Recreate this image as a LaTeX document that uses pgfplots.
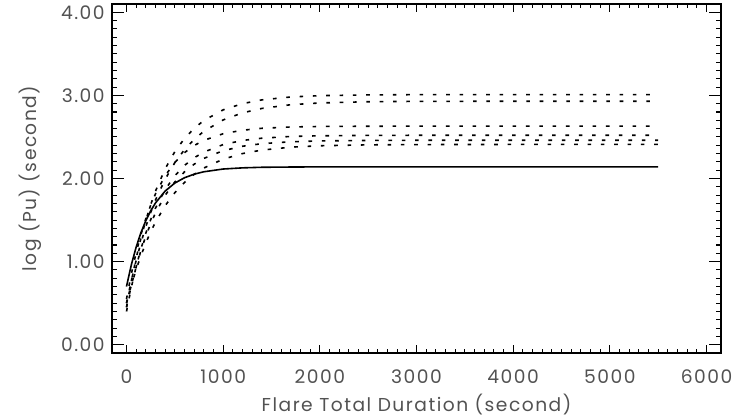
\documentclass[border=0pt]{standalone}
\usepackage{fontspec}
\setmainfont{Poppins}[LetterSpace=8]
\usepackage{pgfplots}
\pgfplotsset{compat=1.18}
\begin{document}
\begin{tikzpicture}
\begin{axis}[
  name=ax,
  scale only axis,
  width=456.75pt, height=261.75pt,
  xmin=-150, xmax=6150, ymin=-0.1, ymax=4.1,
  xtick={0,1000,2000,3000,4000,5000,6000},
  ytick={0,1,2,3,4},
  minor x tick num=9, minor y tick num=9,
  tick align=inside,
  xtick pos=both, ytick pos=both,
  xtick style={/pgfplots/major tick length=6pt,/pgfplots/minor tick length=3pt},
  ytick style={/pgfplots/major tick length=9pt,/pgfplots/minor tick length=4pt},
  every tick/.style={black, line width=0.8pt},
  axis line style={line width=1pt},
  /pgf/number format/assume math mode=true,
  xticklabel style={/pgf/number format/1000 sep={}, anchor=center, yshift=-18pt, font=\fontsize{14}{16}\selectfont, text=black!68},
  yticklabel style={/pgf/number format/fixed, /pgf/number format/fixed zerofill, /pgf/number format/precision=2, xshift=-2pt, font=\fontsize{14}{16}\selectfont, text=black!68},
  xlabel={Flare Total Duration (second)},
  ylabel={log (Pu) (second)},
  xlabel style={at={(axis description cs:0.5,0)}, anchor=center, yshift=-39pt, font=\fontsize{14}{16}\selectfont, text=black!68},
  ylabel style={at={(axis description cs:0,0.5)}, anchor=center, yshift=61.5pt, font=\fontsize{14}{16}\selectfont, text=black!68},
]
% solid
\addplot[black, line width=1.2pt] coordinates {
(0,0.70) (50,0.961) (100,1.175) (150,1.350) (200,1.493) (250,1.610) (300,1.706) (400,1.849) (500,1.945) (600,2.009) (700,2.052) (800,2.081) (1000,2.114) (1200,2.128) (1400,2.135) (1700,2.138) (2000,2.140) (3000,2.140) (4000,2.140) (5500,2.140)};
% dotted A
\addplot[black, line width=1.2pt, dash pattern=on 2.7pt off 7.3pt] coordinates {
(0,0.45) (50,0.766) (100,1.042) (150,1.285) (200,1.498) (250,1.684) (300,1.848) (400,2.117) (500,2.323) (600,2.482) (700,2.604) (800,2.698) (1000,2.826) (1200,2.901) (1400,2.946) (1700,2.981) (2000,2.997) (2500,3.006) (3000,3.009) (4000,3.010) (5500,3.010)};
% dotted B
\addplot[black, line width=1.2pt, dash pattern=on 2.7pt off 7.3pt] coordinates {
(0,0.50) (50,0.773) (100,1.015) (150,1.230) (200,1.421) (250,1.590) (300,1.741) (400,1.992) (500,2.191) (600,2.348) (700,2.471) (800,2.568) (1000,2.705) (1200,2.790) (1400,2.843) (1700,2.888) (2000,2.909) (2500,2.924) (3000,2.928) (4000,2.930) (5500,2.930)};
% dotted C
\addplot[black, line width=1.2pt, dash pattern=on 2.7pt off 7.3pt] coordinates {
(0,0.55) (50,0.851) (100,1.108) (150,1.328) (200,1.517) (250,1.678) (300,1.815) (400,2.034) (500,2.194) (600,2.311) (700,2.397) (800,2.459) (1000,2.539) (1200,2.581) (1400,2.604) (1700,2.620) (2000,2.626) (2500,2.629) (3000,2.630) (4000,2.630) (5500,2.630)};
% dotted D
\addplot[black, line width=1.2pt, dash pattern=on 2.7pt off 7.3pt] coordinates {
(0,0.40) (50,0.690) (100,0.940) (150,1.156) (200,1.343) (250,1.504) (300,1.643) (400,1.866) (500,2.033) (600,2.157) (700,2.249) (800,2.318) (1000,2.408) (1200,2.458) (1400,2.485) (1700,2.506) (2000,2.514) (2500,2.519) (3000,2.520) (4000,2.520) (5500,2.520)};
% dotted E
\addplot[black, line width=1.2pt, dash pattern=on 2.7pt off 7.3pt] coordinates {
(0,0.45) (50,0.711) (100,0.937) (150,1.135) (200,1.307) (250,1.456) (300,1.586) (400,1.798) (500,1.959) (600,2.080) (700,2.172) (800,2.242) (1000,2.335) (1200,2.388) (1400,2.419) (1700,2.442) (2000,2.452) (2500,2.458) (3000,2.460) (4000,2.460) (5500,2.460)};
% dotted F
\addplot[black, line width=1.2pt, dash pattern=on 2.7pt off 7.3pt] coordinates {
(0,0.50) (50,0.714) (100,0.905) (150,1.074) (200,1.224) (250,1.357) (300,1.475) (400,1.673) (500,1.829) (600,1.952) (700,2.049) (800,2.126) (1000,2.233) (1200,2.300) (1400,2.342) (1700,2.377) (2000,2.394) (2500,2.405) (3000,2.408) (4000,2.410) (5500,2.410)};
\end{axis}
\path ([shift={(-84pt,-49.5pt)}]ax.south west) rectangle ([shift={(23.25pt,3pt)}]ax.north east);
\end{tikzpicture}
\end{document}
